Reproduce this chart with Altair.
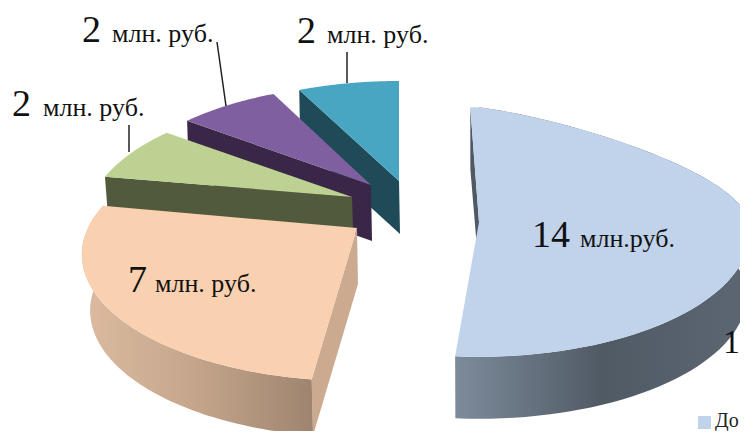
import math
import altair as alt
import pandas as pd

# ---- chart values ----
values = [14, 7, 2, 2, 2]
big_text = ["14", "7", "2", "2", "2"]
unit_text = ["млн.руб.", "млн. руб.", "млн. руб.", "млн. руб.", "млн. руб."]
legend_first = "До"
clipped_label = "1"

# ---- styling and layout (page pixels) ----
OFF = 8
top_colors = ["#c1d3eb", "#f9d0b0", "#bdd292", "#7f5f9f", "#49a6c3"]
side_colors = ["#4f5964", "#cbaa8f", "#525a3d", "#3a2748", "#1f4a58"]
rim_stops = [
    [(0, "#7d8b9b"), (0.5, "#505a65"), (1, "#5d6773")],
    [(0, "#dcbba0"), (0.5, "#c4a58b"), (1, "#9e846f")],
    None, None, None,
]
geom = [
    dict(ax=479, ay=222, rx=270, ry=124, k=0.08, b=0.13, rot=-2.0, d=62, sh=0.99),
    dict(ax=357, ay=228, rx=269, ry=121, k=0.21, b=0, rot=1.0, d=56, sh=0.97),
    dict(ax=352, ay=197, rx=260, ry=121, k=0.21, b=0, rot=0.0, d=32, sh=0.99),
    dict(ax=371, ay=185, rx=258, ry=121, k=0.21, b=0, rot=0.0, d=56, sh=0.99),
    dict(ax=399, ay=181, rx=264, ry=121, k=0.21, b=0, rot=0.0, d=53, sh=0.99),
]
big_pos = [(532, 247), (128, 292), (12, 116), (82, 42), (297, 43)]
unit_pos = [(580, 247), (155, 292), (43, 116), (112, 42), (327, 43)]
leaders = [(129, 125, 129, 152), (217, 42, 226, 106), (347, 52, 347, 83)]

total = sum(values)


def pt(g, deg, drop=False):
    t = math.radians(deg)
    u, v = math.sin(t), math.cos(t)
    w = 1 / (1 + g["k"] * v)
    rx = g["rx"] * (g["sh"] if drop else 1)
    x = g["ax"] + rx * u * w
    y = g["ay"] - g["ry"] * v * w + g["b"] * max(u, 0) * max(v, 0) * g["rx"]
    if drop:
        y += g["d"]
    return [x - OFF, y - OFF]


def shape(points, fill):
    feature = {
        "type": "Feature",
        "properties": {},
        "geometry": {"type": "Polygon", "coordinates": [points + [points[0]]]},
    }
    return (
        alt.Chart(alt.Data(values=[feature]))
        .mark_geoshape(fill=fill, stroke=None, strokeWidth=0)
        .project(type="identity", scale=1, translate=[0, 0])
    )


def frange(a, b, n=80):
    return [a + (b - a) * i / n for i in range(n + 1)]


slices = []
cum = 0
for i, val in enumerate(values):
    g = geom[i]
    start = 360 * cum / total + g["rot"]
    end = start + 360 * val / total
    cum += val
    apex = [g["ax"] - OFF, g["ay"] - OFF]
    apex_low = [g["ax"] - OFF + 1, g["ay"] - OFF + g["d"]]
    angles = frange(start, end)
    parts = [
        shape([apex, pt(g, start), pt(g, start, True), apex_low], side_colors[i])
    ]
    if rim_stops[i]:
        fill = alt.Gradient(
            gradient="linear", x1=0, x2=1, y1=0, y2=0,
            stops=[alt.GradientStop(offset=o, color=c) for o, c in rim_stops[i]],
        )
        front = frange(max(start, 0), min(end, start + 95 if i == 1 else end))
        parts.append(
            shape([pt(g, a) for a in front] + [pt(g, a, True) for a in reversed(front)], fill)
        )
    parts.append(shape([apex] + [pt(g, a) for a in angles], top_colors[i]))
    slices.append(parts)

layers = []
for i in [4, 3, 2, 1, 0]:
    layers += slices[i]

big_df = pd.DataFrame(
    {"x": [p[0] - OFF for p in big_pos],
     "y": [p[1] - OFF for p in big_pos],
     "t": big_text}
)
unit_df = pd.DataFrame(
    {"x": [p[0] - OFF for p in unit_pos],
     "y": [p[1] - OFF for p in unit_pos],
     "t": unit_text}
)
x_id = alt.X("x:Q", scale=None, axis=None)
y_id = alt.Y("y:Q", scale=None, axis=None)

big = alt.Chart(big_df).mark_text(
    font="Liberation Serif", fontSize=38, align="left", baseline="alphabetic", color="#111111"
).encode(x=x_id, y=y_id, text="t:N")
unit = alt.Chart(unit_df).mark_text(
    font="Liberation Serif", fontSize=26, align="left", baseline="alphabetic", color="#111111"
).encode(x=x_id, y=y_id, text="t:N")
edge = alt.Chart(pd.DataFrame({"x": [740 - OFF], "y": [353 - OFF], "t": [clipped_label]})).mark_text(
    font="Liberation Serif", fontSize=34, align="right", baseline="alphabetic", color="#111111"
).encode(x=x_id, y=y_id, text="t:N")

lead_df = pd.DataFrame(
    [{"x": a - OFF, "y": b - OFF, "x2": c - OFF, "y2": d - OFF} for a, b, c, d in leaders]
)
lead = alt.Chart(lead_df).mark_rule(color="#222222", strokeWidth=1.5).encode(
    x=x_id, y=y_id, x2="x2:Q", y2="y2:Q"
)

leg_sq = alt.Chart(pd.DataFrame({"x": [698 - OFF], "x2": [711 - OFF], "y": [416 - OFF], "y2": [429 - OFF]})).mark_rect(
    color=top_colors[0]
).encode(x=x_id, y=y_id, x2="x2:Q", y2="y2:Q")
leg_tx = alt.Chart(pd.DataFrame({"x": [715 - OFF], "y": [427 - OFF], "t": [legend_first]})).mark_text(
    font="Liberation Serif", fontSize=20, align="left", baseline="alphabetic", color="#222222"
).encode(x=x_id, y=y_id, text="t:N")

chart = (
    alt.layer(*layers, lead, big, unit, edge, leg_sq, leg_tx)
    .properties(width=732, height=423, padding=0, autosize=alt.AutoSizeParams(type="none"),
                background="white")
    .configure_view(stroke=None)
)
chart.save("out.html", embed_options={"renderer": "svg", "actions": False})
